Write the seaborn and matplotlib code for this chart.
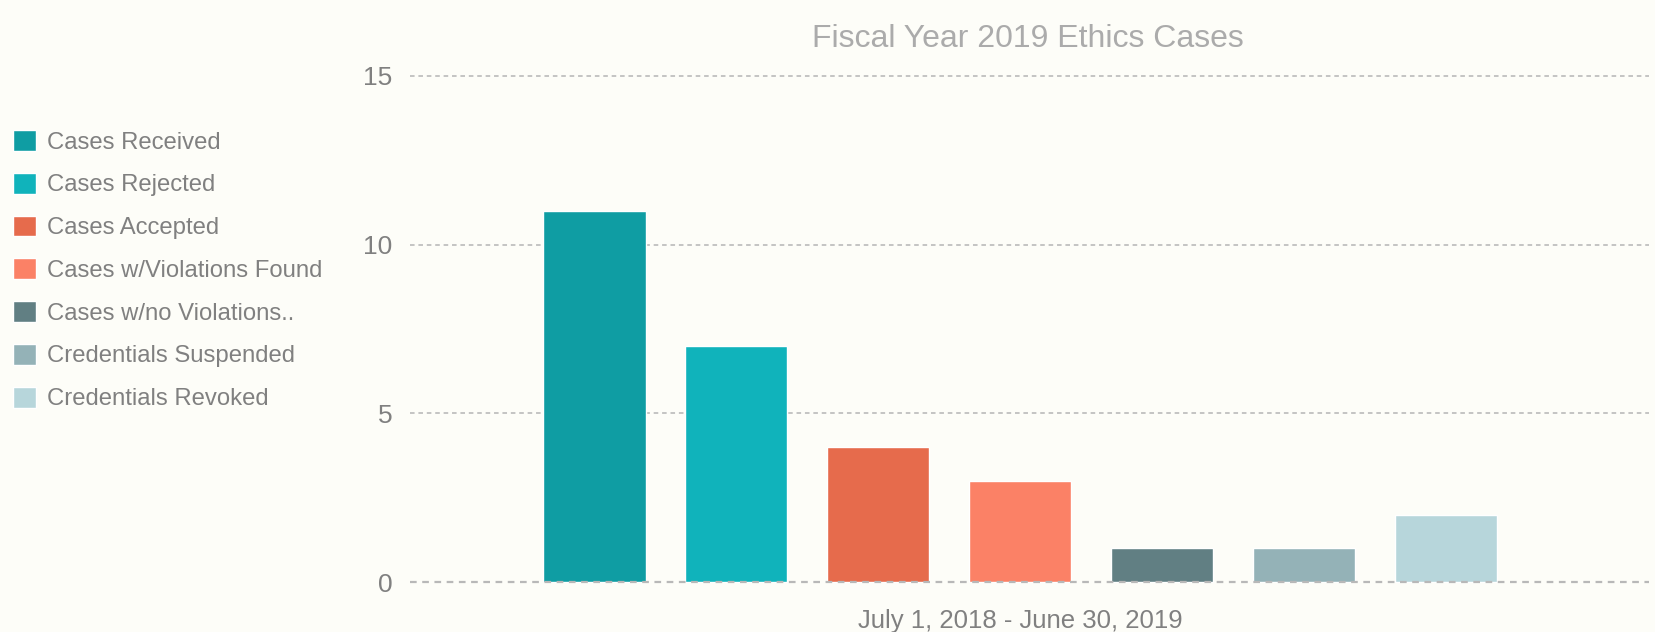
import matplotlib
matplotlib.use("Agg")
import matplotlib.pyplot as plt
import seaborn as sns
import pandas as pd

period = ["July 1, 2018 - June 30, 2019"]
categories = ["Cases Received", "Cases Rejected", "Cases Accepted",
              "Cases w/Violations Found", "Cases w/no Violations..",
              "Credentials Suspended", "Credentials Revoked"]
values = [11, 7, 4, 3, 1, 1, 2]
colors = ["#0F9DA3", "#10B3BB", "#E66B4C", "#FB8166", "#617F83", "#94B2B7", "#B7D6DB"]
yticks = [0, 5, 10, 15]
title = "Fiscal Year 2019 Ethics Cases"

df = pd.DataFrame({"period": period * len(categories), "category": categories, "value": values})

sns.set_theme(style="white")
plt.rcParams["font.family"] = ["Liberation Sans", "DejaVu Sans"]
bg = "#FDFDF8"

fig = plt.figure(figsize=(16.55, 6.32), dpi=100, facecolor=bg)
W, H = 1655, 632
ax = fig.add_axes([410 / W, 46.6 / H, 1239 / W, 512.8 / H])
ax.set_facecolor(bg)

sns.barplot(data=df, x="period", y="value", hue="category",
            hue_order=categories, palette=colors, width=0.8, gap=0.28,
            saturation=1, ax=ax, legend=True)

ax.set_ylim(-0.1, 15.1)
ax.set_xlim(-0.4915, 0.5065)
ax.set_yticks(yticks)
ax.set_xlabel("")
ax.set_ylabel("")
for s in ax.spines.values():
    s.set_visible(False)
for y in yticks:
    ax.axhline(y, color="#B5B5B5" if y else "#B8B8B8", lw=1.6 if y == 0 else 1.1,
               ls=(0, (3, 2.5)), zorder=0 if y else 3)
ax.tick_params(axis="y", length=0, pad=12.5, labelsize=19, labelcolor="#808080")
ax.tick_params(axis="x", length=0, pad=17.3, labelsize=18.5, labelcolor="#808080")

fig.text(1028 / W, 1 - 39 / H, title, ha="center", va="center", fontsize=23, color="#ABABAB")

sns.move_legend(ax, loc="upper left", bbox_to_anchor=(13 / W, 1 - 130 / H),
                bbox_transform=fig.transFigure, frameon=False, title=None,
                fontsize=17.2, handlelength=0.97, handleheight=0.97,
                labelspacing=0.80, handletextpad=0.44, borderpad=0, borderaxespad=0,
                labelcolor="#808080")

fig.savefig("out.png", dpi=100, facecolor=bg)
